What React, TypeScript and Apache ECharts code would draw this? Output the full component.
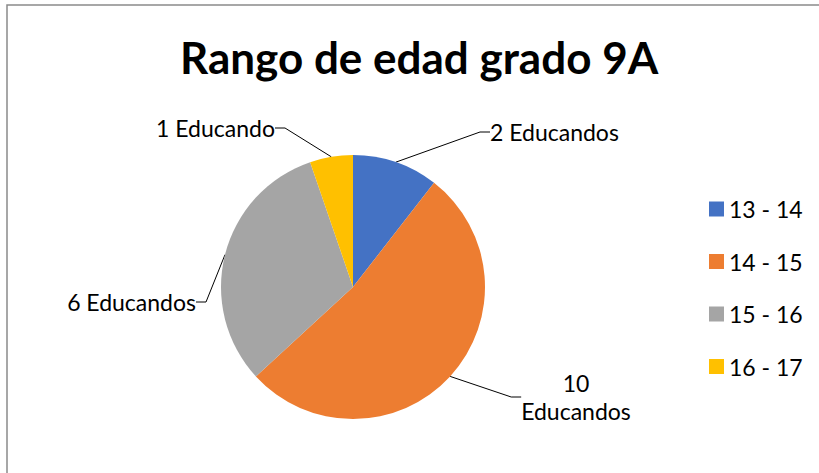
import React, { useEffect, useRef } from "react";
import * as echarts from "echarts";

const titleText = "Rango de edad grado 9A";
const categories = ["13 - 14", "14 - 15", "15 - 16", "16 - 17"];
const values = [2, 10, 6, 1];
const labelTexts = ["2 Educandos", "10\nEducandos", "6 Educandos", "1 Educando"];
const colors = ["#4472C4", "#ED7D31", "#A5A5A5", "#FFC000"];

// label anchor layout (x, y, align)
const labelLayouts = [
  { x: 490, y: 132, align: "left" },
  { x: 576, y: 397, align: "center" },
  { x: 196, y: 302, align: "right" },
  { x: 275, y: 128, align: "right" },
];

const FONT = "Lato, 'Open Sans', sans-serif";

export default function App() {
  const ref = useRef<HTMLDivElement>(null);
  useEffect(() => {
    if (!ref.current) return;
    const chart = echarts.init(ref.current, null, { renderer: "svg" });
    chart.setOption({
      animation: false,
      backgroundColor: "#ffffff",
      title: {
        text: titleText,
        left: 180,
        top: 35,
        padding: 0,
        textStyle: { fontFamily: FONT, fontWeight: "bold", fontSize: 44, color: "#000000" },
      },
      legend: {
        orient: "vertical",
        left: 709,
        top: 196,
        padding: 0,
        itemWidth: 15,
        itemHeight: 15,
        itemGap: 26.5,
        icon: "rect",
        data: categories,
        textStyle: { fontFamily: FONT, fontSize: 23, color: "#000000", lineHeight: 26 },
      },
      graphic: [
        {
          type: "rect",
          shape: { x: 7, y: 5, width: 900, height: 600 },
          style: { fill: "none", stroke: "#8a8a8a", lineWidth: 1.5 },
          silent: true,
        },
      ],
      series: [
        {
          type: "pie",
          center: [353, 287],
          radius: 132,
          startAngle: 90,
          clockwise: true,
          color: colors,
          itemStyle: { borderWidth: 0 },
          label: {
            show: true,
            position: "outside",
            fontFamily: FONT,
            fontSize: 23,
            lineHeight: 28,
            color: "#000000",
            formatter: (p: any) => labelTexts[p.dataIndex],
          },
          labelLine: {
            show: true,
            length: 10,
            length2: 10,
            lineStyle: { color: "#000000", width: 1 },
          },
          labelLayout: (params: any) => {
            const l = labelLayouts[params.dataIndex];
            return { x: l.x, y: l.y, align: l.align, verticalAlign: "middle" };
          },
          data: categories.map((c, i) => ({ name: c, value: values[i] })),
        },
      ],
    });
    return () => chart.dispose();
  }, []);
  return (
    <div
      ref={ref}
      style={{ position: "absolute", left: 0, top: 0, width: 819, height: 473 }}
    />
  );
}
